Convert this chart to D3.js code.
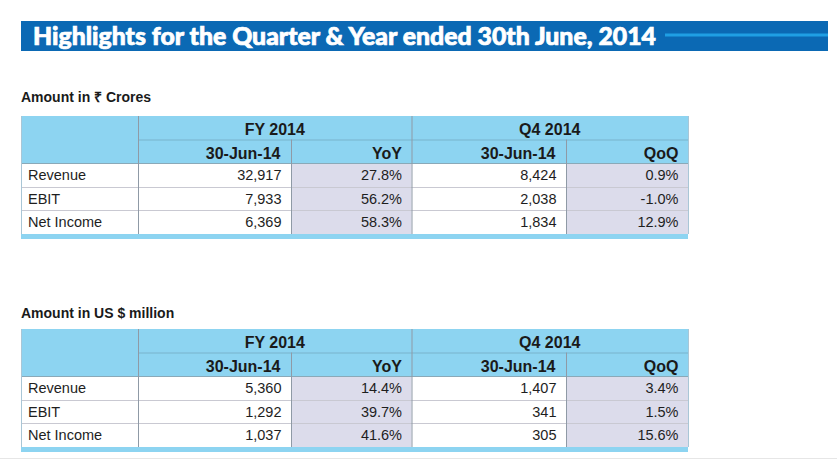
<!DOCTYPE html>
<html>
<head>
<meta charset="utf-8">
<script src="https://cdn.jsdelivr.net/npm/d3@7"></script>
<style>
  body { margin: 0; background: #fff; }
  svg { display: block; }
</style>
</head>
<body>
<div id="chart"></div>
<script>
// data
var titleText = "Highlights for the Quarter & Year ended 30th June, 2014";
var metrics = ["Revenue", "EBIT", "Net Income"];
var groupLabels = ["FY 2014", "Q4 2014"];
var subLabels = ["30-Jun-14", "YoY", "30-Jun-14", "QoQ"];

var inrCaption = "Amount in \u20B9 Crores";
var inrFy = [32917, 7933, 6369];
var inrYoy = [27.8, 56.2, 58.3];
var inrQ4 = [8424, 2038, 1834];
var inrQoq = [0.9, -1.0, 12.9];

var usdCaption = "Amount in US $ million";
var usdFy = [5360, 1292, 1037];
var usdYoy = [14.4, 39.7, 41.6];
var usdQ4 = [1407, 341, 305];
var usdQoq = [3.4, 1.5, 15.6];

var width = 837, height = 462;

var svg = d3.select("#chart")
    .append("svg")
    .attr("width", width)
    .attr("height", height);

// number formats (plain hyphen for negatives)
var loc = d3.formatLocale({ decimal: ".", thousands: ",", grouping: [3], currency: ["", ""], minus: "-" });
var fmtNum = loc.format(",d");
var fmtPct = function (v) { return loc.format(".1f")(v) + "%"; };

// title bar
svg.append("rect")
    .attr("x", 21).attr("y", 21)
    .attr("width", 807).attr("height", 30)
    .attr("fill", "#0b69b4");
svg.append("rect")
    .attr("x", 665).attr("y", 33.5)
    .attr("width", 163).attr("height", 3)
    .attr("fill", "#1f9fe4");
svg.append("text")
    .attr("x", 33).attr("y", 45)
    .attr("font-family", "Lato, 'Open Sans', sans-serif")
    .attr("font-weight", 900)
    .attr("font-size", 24)
    .attr("fill", "#fff")
    .attr("stroke", "#fff")
    .attr("stroke-width", 0.7)
    .attr("textLength", 623)
    .attr("lengthAdjust", "spacingAndGlyphs")
    .text(titleText);

// faint page edge at the bottom
svg.append("line")
    .attr("x1", 0).attr("x2", width)
    .attr("y1", 458.5).attr("y2", 458.5)
    .attr("stroke", "#e6e6e6");

// column edges of the table
var colEdges = [21, 138, 291, 411.5, 566, 688];

function drawTable(caption, captionY, top, fy, yoy, q4, qoq) {
    var g = svg.append("g");
    var left = colEdges[0], right = colEdges[5];
    var h1 = 23.5, hdr = 47, bodyBottom = 118;

    g.append("text")
        .attr("x", 21).attr("y", captionY)
        .attr("font-family", "'Liberation Sans', Arial, sans-serif")
        .attr("font-weight", "bold")
        .attr("font-size", 14)
        .attr("fill", "#1a1a1a")
        .text(caption);

    var y = d3.scaleBand()
        .domain(metrics)
        .range([top + hdr, top + bodyBottom]);

    // header background
    g.append("rect")
        .attr("x", left).attr("y", top)
        .attr("width", right - left).attr("height", hdr)
        .attr("fill", "#8dd4f1");

    // shaded YoY / QoQ columns
    [2, 4].forEach(function (c) {
        g.append("rect")
            .attr("x", colEdges[c]).attr("y", top + hdr)
            .attr("width", colEdges[c + 1] - colEdges[c])
            .attr("height", bodyBottom - hdr)
            .attr("fill", "#dcdceb");
    });

    // bottom blue strip
    g.append("rect")
        .attr("x", left).attr("y", top + bodyBottom)
        .attr("width", right - left).attr("height", 5)
        .attr("fill", "#8dd4f1");

    // row separators
    g.selectAll(".rowline")
        .data(metrics.slice(1))
        .enter()
        .append("line")
        .attr("x1", left).attr("x2", right)
        .attr("y1", function (d) { return Math.round(y(d)) + 0.5; })
        .attr("y2", function (d) { return Math.round(y(d)) + 0.5; })
        .attr("stroke", "#c9c9d2");

    // header lines
    g.append("line")
        .attr("x1", colEdges[1]).attr("x2", right)
        .attr("y1", top + h1 + 0.5).attr("y2", top + h1 + 0.5)
        .attr("stroke", "#79b3cc");
    g.append("line")
        .attr("x1", left).attr("x2", right)
        .attr("y1", top + hdr + 0.5).attr("y2", top + hdr + 0.5)
        .attr("stroke", "#8aa9b8");

    // vertical lines
    [1, 3].forEach(function (c) {
        g.append("line")
            .attr("x1", colEdges[c] + 0.5).attr("x2", colEdges[c] + 0.5)
            .attr("y1", top).attr("y2", top + bodyBottom)
            .attr("stroke", "#8f9aa6");
    });
    [2, 4].forEach(function (c) {
        g.append("line")
            .attr("x1", colEdges[c] + 0.5).attr("x2", colEdges[c] + 0.5)
            .attr("y1", top + h1).attr("y2", top + bodyBottom)
            .attr("stroke", "#8f9aa6");
    });
    [0, 5].forEach(function (c) {
        g.append("line")
            .attr("x1", colEdges[c] + 0.5).attr("x2", colEdges[c] + 0.5)
            .attr("y1", top).attr("y2", top + bodyBottom)
            .attr("stroke", "#a9c6d6");
    });

    // group headings
    g.selectAll(".grp")
        .data(groupLabels)
        .enter()
        .append("text")
        .attr("x", function (d, i) { return (colEdges[1 + i * 2] + colEdges[3 + i * 2]) / 2; })
        .attr("y", top + 18.5)
        .attr("text-anchor", "middle")
        .attr("font-family", "'Liberation Sans', Arial, sans-serif")
        .attr("font-weight", "bold")
        .attr("font-size", 16)
        .attr("fill", "#1a1a1a")
        .text(function (d) { return d; });

    // sub headings
    g.selectAll(".sub")
        .data(subLabels)
        .enter()
        .append("text")
        .attr("x", function (d, i) { return colEdges[i + 2] - (i % 2 === 0 ? 10.5 : 9.5); })
        .attr("y", top + 43)
        .attr("text-anchor", "end")
        .attr("font-family", "'Liberation Sans', Arial, sans-serif")
        .attr("font-weight", "bold")
        .attr("font-size", 16)
        .attr("fill", "#1a1a1a")
        .text(function (d) { return d; });

    // body cells
    var cols = [
        { vals: metrics, fmt: function (d) { return d; }, anchor: "start" },
        { vals: fy, fmt: fmtNum, anchor: "end" },
        { vals: yoy, fmt: fmtPct, anchor: "end" },
        { vals: q4, fmt: fmtNum, anchor: "end" },
        { vals: qoq, fmt: fmtPct, anchor: "end" }
    ];
    cols.forEach(function (col, c) {
        g.selectAll(".c" + c)
            .data(col.vals)
            .enter()
            .append("text")
            .attr("x", c === 0 ? left + 7 : colEdges[c + 1] - 9.5)
            .attr("y", function (d, i) { return y(metrics[i]) + 17; })
            .attr("text-anchor", col.anchor)
            .attr("font-family", "'Liberation Sans', Arial, sans-serif")
            .attr("font-size", 14.5)
            .attr("fill", "#1e1e1e")
            .text(col.fmt);
    });
}

drawTable(inrCaption, 102, 116, inrFy, inrYoy, inrQ4, inrQoq);
drawTable(usdCaption, 318, 329, usdFy, usdYoy, usdQ4, usdQoq);
</script>
</body>
</html>
